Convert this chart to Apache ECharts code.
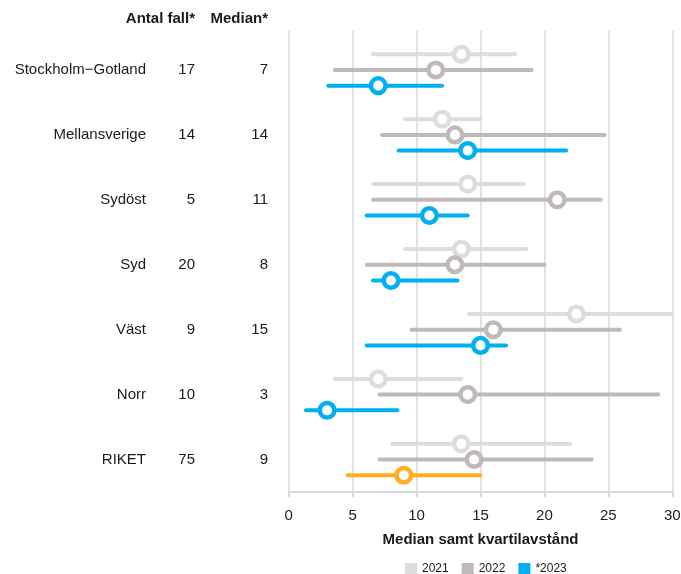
<!DOCTYPE html>
<html>
<head>
<meta charset="utf-8">
<script src="https://cdn.jsdelivr.net/npm/echarts@6/dist/echarts.min.js"></script>
<style>
html,body{margin:0;padding:0;background:#fff;}
#chart{width:681px;height:574px;}
</style>
</head>
<body>
<div id="chart"></div>
<script>
(function(){
	"use strict";

	var regions = ['Stockholm\u2212Gotland', 'Mellansverige', 'Sydöst', 'Syd', 'Väst', 'Norr', 'RIKET'];
	var antalFall = [17, 14, 5, 20, 9, 10, 75];
	var medianText = [7, 14, 11, 8, 15, 3, 9];
	var years = ['2021', '2022', '*2023'];

	// kvartil låg / hög och median per år
	var low2021 = [6.6, 9.1, 6.6, 9.1, 14.1, 3.6, 8.1];
	var high2021 = [17.7, 15, 18.4, 18.6, 30, 13.5, 22];
	var med2021 = [13.5, 12, 14, 13.5, 22.5, 7, 13.5];

	var low2022 = [3.6, 7.3, 6.6, 6.1, 9.6, 7.1, 7.1];
	var high2022 = [19, 24.7, 24.4, 20, 25.9, 28.9, 23.7];
	var med2022 = [11.5, 13, 21, 13, 16, 14, 14.5];

	var low2023 = [3.1, 8.6, 6.1, 6.6, 6.1, 1.35, 4.6];
	var high2023 = [12, 21.7, 14, 13.2, 17, 8.5, 15];
	var med2023 = [7, 14, 11, 8, 15, 3, 9];

	var xTicks = [0, 5, 10, 15, 20, 25, 30];

	var font = '"Liberation Sans", Arial, sans-serif';
	var txt = '#1a1a1a';
	var grey = '#d9d9d9';

	var build = function(lo, hi, med, special){
		return regions.map(function(r, i){
			var item = {value: [i, lo[i], hi[i], med[i]]};
			if (special && r === 'RIKET') item.itemStyle = {color: '#ffae1f'};
			return item;
		});
	};

	var render = function(offset){
		return function(params, api){
			var cat = api.value(0);
			var pLo = api.coord([api.value(1), cat]);
			var pHi = api.coord([api.value(2), cat]);
			var pM = api.coord([api.value(3), cat]);
			var y = pLo[1] + offset;
			var c = api.visual('color');
			return {
				type: 'group',
				children: [{
					type: 'line',
					shape: {x1: pLo[0], y1: y, x2: pHi[0], y2: y},
					style: {stroke: c, lineWidth: 4, lineCap: 'round'}
				}, {
					type: 'circle',
					shape: {cx: pM[0], cy: y, r: 7.3},
					style: {fill: '#fff', stroke: c, lineWidth: 4.5}
				}]
			};
		};
	};

	var labelAxis = function(margin, fmt){
		return {
			type: 'category',
			gridIndex: 1,
			data: regions,
			inverse: true,
			position: 'left',
			axisLine: {show: false},
			axisTick: {show: false},
			splitLine: {show: false},
			axisLabel: {
				margin: margin,
				fontFamily: font,
				fontSize: 15,
				color: txt,
				formatter: fmt
			}
		};
	};

	// grid 0: rutnät och x-axel (går lite högre), grid 1: raderna
	var chart = echarts.init(document.getElementById('chart'));
	chart.setOption({
		animation: false,
		textStyle: {fontFamily: font},
		grid: [
			{left: 288.7, right: 8.7, top: 31, bottom: 82, containLabel: false, outerBoundsMode: 'none'},
			{left: 288.7, right: 8.7, top: 37.5, bottom: 82, containLabel: false, outerBoundsMode: 'none'}
		],
		legend: {
			data: years,
			top: 558,
			left: 400,
			itemWidth: 12,
			itemHeight: 12,
			itemGap: 13,
			icon: 'rect',
			textStyle: {fontFamily: font, fontSize: 12, color: txt}
		},
		graphic: [{
			type: 'text', right: 681 - 195, top: 11,
			style: {text: 'Antal fall*', font: 'bold 15px ' + font, fill: txt}
		}, {
			type: 'text', right: 681 - 268, top: 11,
			style: {text: 'Median*', font: 'bold 15px ' + font, fill: txt}
		}],
		xAxis: [{
			type: 'value',
			gridIndex: 0,
			min: 0,
			max: 30,
			interval: 5,
			name: 'Median samt kvartilavstånd',
			nameLocation: 'middle',
			nameGap: 40,
			nameTextStyle: {fontFamily: font, fontSize: 15, fontWeight: 'bold', color: txt},
			axisLine: {show: true, lineStyle: {color: grey, width: 2}},
			axisTick: {show: true, length: 5, lineStyle: {color: grey, width: 2}},
			splitLine: {show: true, lineStyle: {color: grey, width: 1.5}},
			axisLabel: {
				margin: 16,
				fontFamily: font,
				fontSize: 15,
				color: txt,
				formatter: function(v){ return xTicks.indexOf(v) >= 0 ? String(v) : ''; }
			}
		}, {
			type: 'value',
			gridIndex: 1,
			min: 0,
			max: 30,
			interval: 5,
			show: false
		}],
		yAxis: [
			{type: 'value', gridIndex: 0, show: false},
			labelAxis(142.7, null),
			labelAxis(93.7, function(v, i){ return String(antalFall[i]); }),
			labelAxis(20.7, function(v, i){ return String(medianText[i]); })
		],
		series: [{
			name: years[0],
			type: 'custom',
			xAxisIndex: 1,
			yAxisIndex: 1,
			itemStyle: {color: '#dedddb'},
			renderItem: render(-15.7),
			encode: {x: [1, 2, 3], y: 0},
			data: build(low2021, high2021, med2021, false),
			z: 2
		}, {
			name: years[1],
			type: 'custom',
			xAxisIndex: 1,
			yAxisIndex: 1,
			itemStyle: {color: '#bfbab7'},
			renderItem: render(0),
			encode: {x: [1, 2, 3], y: 0},
			data: build(low2022, high2022, med2022, false),
			z: 3
		}, {
			name: years[2],
			type: 'custom',
			xAxisIndex: 1,
			yAxisIndex: 1,
			itemStyle: {color: '#00b0f0'},
			renderItem: render(15.7),
			encode: {x: [1, 2, 3], y: 0},
			data: build(low2023, high2023, med2023, true),
			z: 4
		}]
	});
})();
</script>
</body>
</html>
